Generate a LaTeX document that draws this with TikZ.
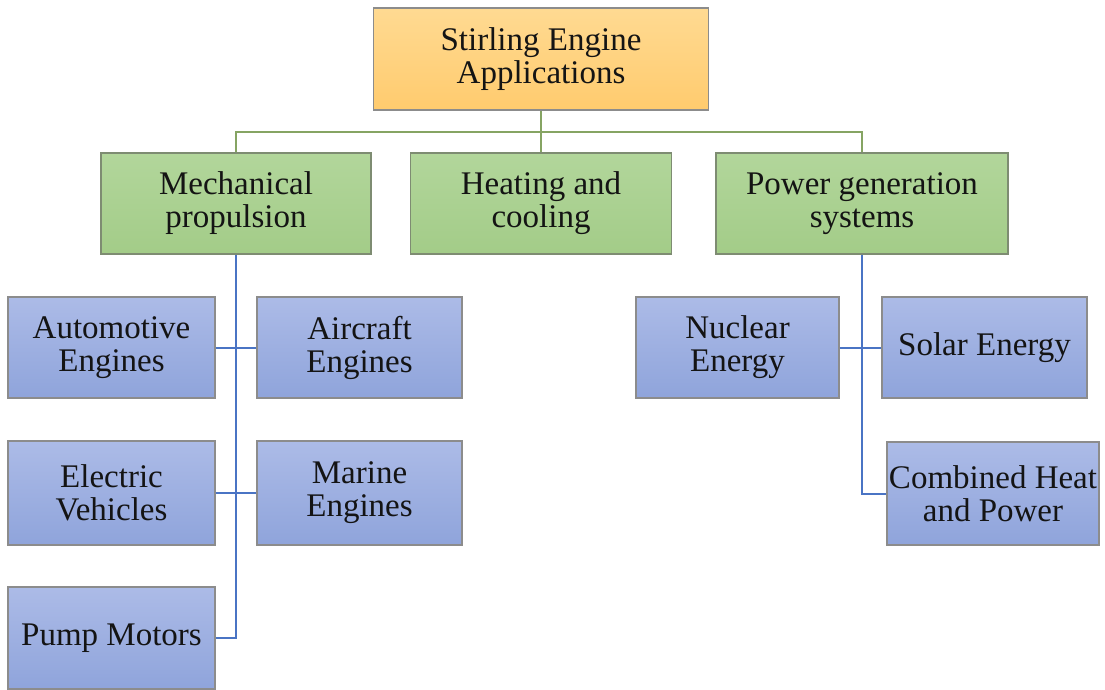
\documentclass[tikz,border=0pt]{standalone}
\usepackage{fontspec}
\setmainfont{Liberation Serif}
\definecolor{orangetop}{HTML}{FFDA92}
\definecolor{orangebot}{HTML}{FFCB6E}
\definecolor{greentop}{HTML}{B2D69B}
\definecolor{greenbot}{HTML}{A3CC88}
\definecolor{bluetop}{HTML}{ACBBE7}
\definecolor{bluebot}{HTML}{8FA4DB}
\definecolor{boxedge}{HTML}{8C8C8C}
\definecolor{greenedge}{HTML}{7E8C72}
\definecolor{gconn}{HTML}{86A463}
\definecolor{bconn}{HTML}{4A74C4}
\definecolor{txt}{HTML}{141414}
\begin{document}
\begin{tikzpicture}[x=1pt,y=-1pt,
  basebox/.style={rectangle, draw=boxedge, line width=1.3pt, align=center, inner sep=0pt,
    text=txt, font=\fontsize{33}{33}\selectfont},
  rootbox/.style={basebox, top color=orangetop, bottom color=orangebot},
  catbox/.style={basebox, draw=greenedge, top color=greentop, bottom color=greenbot},
  leafbox/.style={basebox, top color=bluetop, bottom color=bluebot},
  gline/.style={draw=gconn, line width=2pt},
  bline/.style={draw=bconn, line width=2pt}]
\useasboundingbox[fill=white] (0,0) rectangle (1105,689);

\node[rootbox, minimum width=335pt, minimum height=102pt] (root) at (541,59) {Stirling Engine\\Applications};

\node[catbox, minimum width=270pt, minimum height=101pt] (mech) at (236,203.5) {Mechanical\\propulsion};
\node[catbox, minimum width=261pt, minimum height=101pt] (heat) at (541,203.5) {Heating and\\cooling};
\node[catbox, minimum width=292pt, minimum height=101pt] (pow) at (862,203.5) {Power generation\\systems};

\node[leafbox, minimum width=207pt, minimum height=101pt] (auto) at (111.5,347.5) {Automotive\\Engines};
\node[leafbox, minimum width=205pt, minimum height=101pt] (air) at (359.5,347.5) {Aircraft\\Engines};
\node[leafbox, minimum width=207pt, minimum height=104pt] (elec) at (111.5,493) {Electric\\Vehicles};
\node[leafbox, minimum width=205pt, minimum height=104pt] (mar) at (359.5,493) {Marine\\Engines};
\node[leafbox, minimum width=207pt, minimum height=102pt] (pump) at (111.5,638) {Pump Motors};

\node[leafbox, minimum width=203pt, minimum height=101pt] (nuc) at (737.5,347.5) {Nuclear\\Energy};
\node[leafbox, minimum width=205pt, minimum height=101pt] (sol) at (984.5,347.5) {Solar Energy};
\node[leafbox, minimum width=212pt, minimum height=103pt] (chp) at (993,493.5) {Combined Heat\\and Power};

\coordinate (gbus) at (541,132);
\draw[gline] (root.south) -- (heat.north);
\draw[gline] (mech.north) -- (mech.north |- gbus) -- (pow.north |- gbus) -- (pow.north);

\draw[bline] (mech.south) -- (mech.south |- pump.east) -- (pump.east);
\draw[bline] (auto.east) -- (air.west);
\draw[bline] (elec.east) -- (mar.west);

\draw[bline] (pow.south) -- (pow.south |- chp.west) -- (chp.west);
\draw[bline] (nuc.east) -- (sol.west);
\end{tikzpicture}
\end{document}
